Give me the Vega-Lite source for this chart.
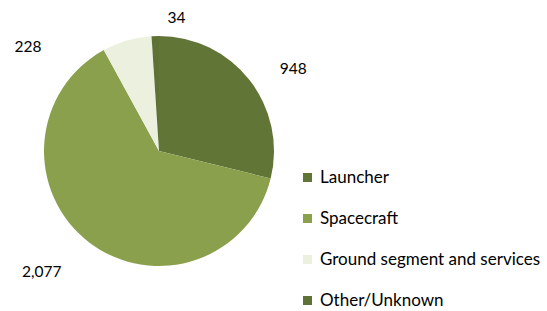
{
  "$schema": "https://vega.github.io/schema/vega-lite/v6.json",
  "width": 318,
  "height": 302,
  "padding": {"left": 0, "top": 0, "right": 229, "bottom": 9},
  "autosize": {"type": "none"},
  "background": "white",
  "data": {
    "values": [
      {"cat": "Launcher", "value": 948, "rank": 1},
      {"cat": "Spacecraft", "value": 2077, "rank": 2},
      {"cat": "Ground segment and services", "value": 228, "rank": 3},
      {"cat": "Other/Unknown", "value": 34, "rank": 4}
    ]
  },
  "encoding": {
    "theta": {"field": "value", "type": "quantitative", "stack": true},
    "order": {"field": "rank", "type": "quantitative"}
  },
  "layer": [
    {
      "mark": {"type": "arc", "outerRadius": 115},
      "encoding": {
        "color": {
          "field": "cat",
          "type": "nominal",
          "scale": {
            "domain": ["Launcher", "Spacecraft", "Ground segment and services", "Other/Unknown"],
            "range": ["#617537", "#8aa04c", "#ebf1de", "#5f7236"]
          },
          "legend": {
            "title": null,
            "orient": "none",
            "legendX": 299,
            "legendY": 169,
            "symbolType": "square",
            "symbolSize": 81,
            "symbolStrokeWidth": 0,
            "labelFontSize": 17,
            "labelFont": "Lato",
            "labelColor": "#000000",
            "labelOffset": 4,
            "rowPadding": 23,
            "padding": 0,
            "labelLimit": 300
          }
        }
      }
    },
    {
      "mark": {"type": "text", "radius": 140, "dx": 24, "dy": 4, "fontSize": 15.5, "font": "Lato", "color": "#000000"},
      "encoding": {"text": {"condition": {"test": "datum.cat === 'Launcher'", "field": "value", "type": "quantitative", "format": ","}, "value": ""}}
    },
    {
      "mark": {"type": "text", "radius": 140, "dx": -32, "dy": 10, "fontSize": 15.5, "font": "Lato", "color": "#000000"},
      "encoding": {"text": {"condition": {"test": "datum.cat === 'Spacecraft'", "field": "value", "type": "quantitative", "format": ","}, "value": ""}}
    },
    {
      "mark": {"type": "text", "radius": 140, "dx": -92, "dy": 30, "fontSize": 15.5, "font": "Lato", "color": "#000000"},
      "encoding": {"text": {"condition": {"test": "datum.cat === 'Ground segment and services'", "field": "value", "type": "quantitative", "format": ","}, "value": ""}}
    },
    {
      "mark": {"type": "text", "radius": 140, "dx": 22, "dy": 7, "fontSize": 15.5, "font": "Lato", "color": "#000000"},
      "encoding": {"text": {"condition": {"test": "datum.cat === 'Other/Unknown'", "field": "value", "type": "quantitative", "format": ","}, "value": ""}}
    }
  ],
  "config": {"view": {"stroke": null}}
}
